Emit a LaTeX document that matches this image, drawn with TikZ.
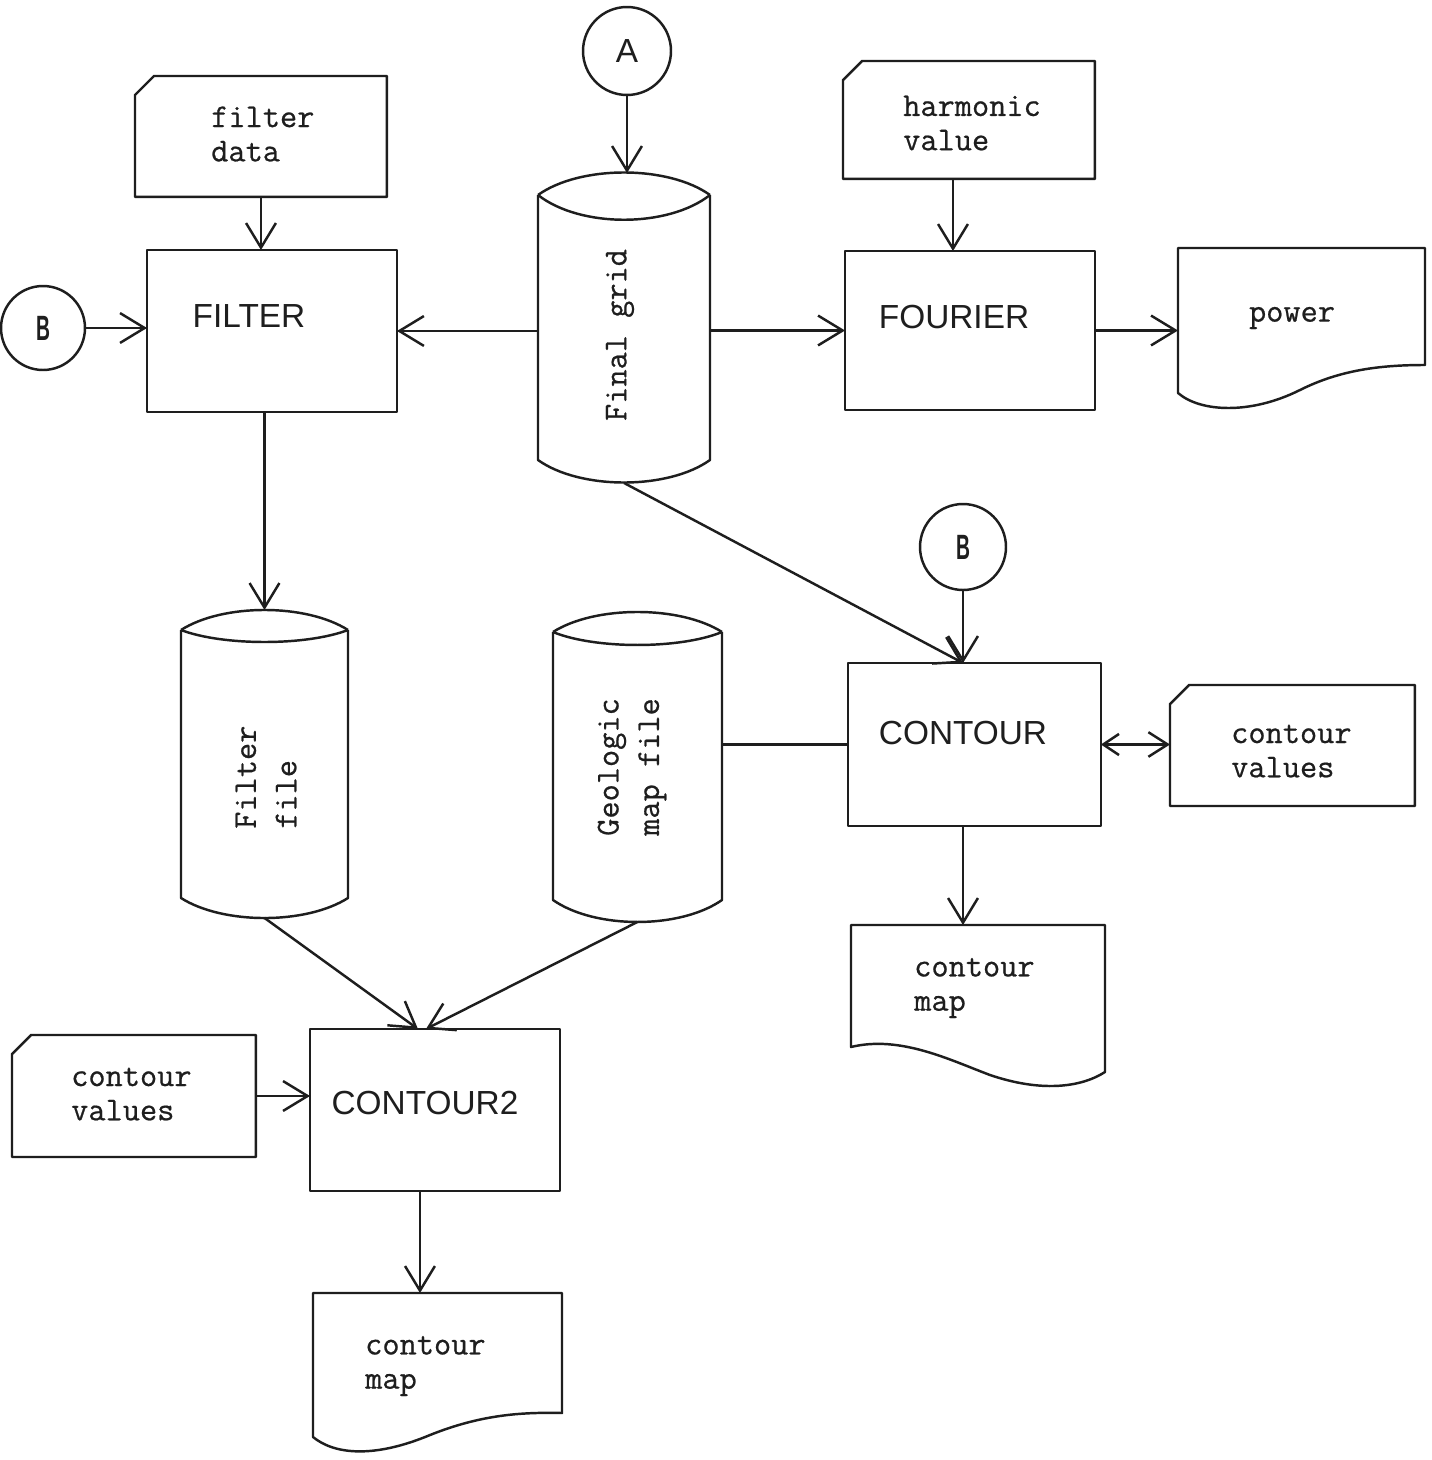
\documentclass[tikz,border=0pt]{standalone}
\usepackage{fontspec}
\usepackage{graphicx}
\usetikzlibrary{arrows.meta,calc}
\newfontfamily\boxfont{Liberation Sans}
\newfontfamily\typefont{Latin Modern Mono}[FakeBold=0.6]
\definecolor{ink}{RGB}{30,30,30}
\newcommand\cardoutline[1]{\draw ($(#1.north west)+(0,19)$) -- ($(#1.north west)+(19,0)$) -- (#1.north east) -- (#1.south east) -- (#1.south west) -- cycle;}
\begin{document}
\begin{tikzpicture}[x=0.02cm,y=-0.02cm, line width=1.4pt, color=ink, line join=round,
  frame/.style={inner sep=0, outer sep=0, anchor=north west},
  box/.style={frame, draw},
  mono/.style={font=\typefont\fontsize{19}{19.5}\selectfont, inner sep=0, align=left},
  rmono/.style={font=\typefont\fontsize{19}{23}\selectfont, inner sep=0, align=left, rotate=90, anchor=west},
  sans/.style={font=\boxfont\fontsize{19}{22}\selectfont, inner sep=0},
  conn/.style={circle, draw, inner sep=0, outer sep=0, minimum size=#1},
  arr/.style={-{Straight Barb[length=14pt,width=17pt]}},
  darr/.style={{Straight Barb[length=9pt,width=12pt]}-{Straight Barb[length=11pt,width=14pt]}}]

\fill[white] (0,0) rectangle (1431,1460);
\useasboundingbox (0,0) rectangle (1431,1460);

% ---- connector circles
\node[conn=1.76cm, font=\boxfont\fontsize{19}{22}\selectfont] (a) at (627,51) {A};
\node[conn=1.68cm, font=\boxfont\bfseries\fontsize{20}{22}\selectfont] (b1) at (43,328) {\scalebox{0.55}[1]{B}};
\node[conn=1.72cm, font=\boxfont\bfseries\fontsize{20}{22}\selectfont] (b2) at (963,547) {\scalebox{0.55}[1]{B}};

% ---- process boxes
\node[box, minimum width=5cm, minimum height=3.24cm] (filter) at (147,250) {};
\node[sans] at (249,316) {FILTER};
\node[box, minimum width=5cm, minimum height=3.18cm] (fourier) at (845,251) {};
\node[sans] at (954,317) {FOURIER};
\node[box, minimum width=5.06cm, minimum height=3.26cm] (contour) at (848,663) {};
\node[sans] at (963,733) {CONTOUR};
\node[box, minimum width=5cm, minimum height=3.24cm] (c2) at (310,1029) {};
\node[sans] at (425,1103) {CONTOUR2};

% ---- cards
\node[frame, minimum width=5.04cm, minimum height=2.42cm] (fd) at (135,76) {};
\cardoutline{fd}
\node[mono, anchor=west] at (210,134) {filter\\data};
\node[frame, minimum width=5.04cm, minimum height=2.36cm] (hv) at (843,61) {};
\cardoutline{hv}
\node[mono, anchor=west] at (902,123) {harmonic\\value};
\node[frame, minimum width=4.9cm, minimum height=2.42cm] (cv1) at (1170,685) {};
\cardoutline{cv1}
\node[mono, anchor=west] at (1230,751) {contour\\values};
\node[frame, minimum width=4.88cm, minimum height=2.44cm] (cv2) at (12,1035) {};
\cardoutline{cv2}
\node[mono, anchor=west] at (70,1094) {contour\\values};

% ---- documents
\node[frame, minimum width=4.94cm, minimum height=3.24cm] (pw) at (1178,248) {};
\draw (1178,248) -- (1425,248) -- (1425,365) .. controls (1380,365) and (1340,370) .. (1300,390)
  .. controls (1250,415) and (1200,412) .. (1178,393) -- cycle;
\node[mono] at (1292,318) {power};
\node[frame, minimum width=5.08cm, minimum height=3.2cm] (cmap1) at (851,925) {};
\draw (851,925) -- (1105,925) -- (1105,1072) .. controls (1080,1088) and (1040,1092) .. (990,1075)
  .. controls (950,1060) and (900,1035) .. (851,1047) -- cycle;
\node[mono, anchor=west] at (913,988) {contour\\map};
\node[frame, minimum width=4.98cm, minimum height=3.2cm] (cmap2) at (313,1293) {};
\draw (313,1293) -- (562,1293) -- (562,1413) .. controls (520,1412) and (480,1415) .. (430,1435)
  .. controls (375,1458) and (335,1455) .. (313,1437) -- cycle;
\node[mono, anchor=west] at (364,1366) {contour\\map};

% ---- cylinders
\node[frame, minimum width=3.44cm, minimum height=6.2cm] (grid) at (538,173) {};
\draw (538,195) .. controls (580,165) and (668,165) .. (710,195);
\draw (538,195) .. controls (580,228) and (668,228) .. (710,195);
\draw (538,195) -- (538,460) .. controls (580,490) and (668,490) .. (710,460) -- (710,195);
\node[rmono, anchor=center] at (620,335) {Final grid};

\node[frame, minimum width=3.34cm, minimum height=6.16cm] (ffile) at (181,610) {};
\draw (181,630) .. controls (223,603.3) and (306,603.3) .. (348,630);
\draw (181,630) .. controls (223,646) and (306,646) .. (348,630);
\draw (181,630) -- (181,898) .. controls (223,924.7) and (306,924.7) .. (348,898) -- (348,630);
\node[rmono] at (266,830) {Filter\\file};

\node[frame, minimum width=3.38cm, minimum height=6.2cm] (geo) at (553,612) {};
\draw (553,632) .. controls (595,605.3) and (680,605.3) .. (722,632);
\draw (553,632) .. controls (595,649.3) and (680,649.3) .. (722,632);
\draw (553,632) -- (553,900) .. controls (595,929.3) and (680,929.3) .. (722,900) -- (722,632);
\node[rmono] at (632,837) {Geologic\\map file};

% ---- connectors
\coordinate (hvout) at ($(hv.south)+(-16,0)$);
\coordinate (c2in1) at ($(c2.north)+(-17,0)$);
\coordinate (c2in2) at ($(c2.north)+(-9,0)$);
\coordinate (c2out) at ($(c2.south)+(-15,0)$);

\draw[arr] (a) -- (a |- grid.north);
\draw[arr] (fd.south) -- (fd.south |- filter.north);
\draw[arr] (b1) -- (b1 -| filter.west);
\draw[arr] (grid.west |- filter.east) -- (filter.east);
\draw[arr] (grid.east |- fourier.west) -- (fourier.west);
\draw[arr] (hvout) -- (hvout |- fourier.north);
\draw[arr] (fourier.east) -- (fourier.east -| pw.west);
\draw[arr] (ffile.north |- filter.south) -- (ffile.north);
\draw[arr] (b2) -- (b2 |- contour.north);
\draw[arr] (grid.south) -- (b2 |- contour.north);
\draw (geo.east |- contour.west) -- (contour.west);
\draw[darr] (contour.east) -- (contour.east -| cv1.west);
\draw[arr] (b2 |- contour.south) -- (b2 |- cmap1.north);
\draw[arr] (ffile.south) -- (c2in1);
\draw[arr] (geo.south) -- (c2in2);
\draw[arr] (cv2.east) -- (cv2.east -| c2.west);
\draw[arr] (c2out) -- (c2out |- cmap2.north);
\end{tikzpicture}
\end{document}
